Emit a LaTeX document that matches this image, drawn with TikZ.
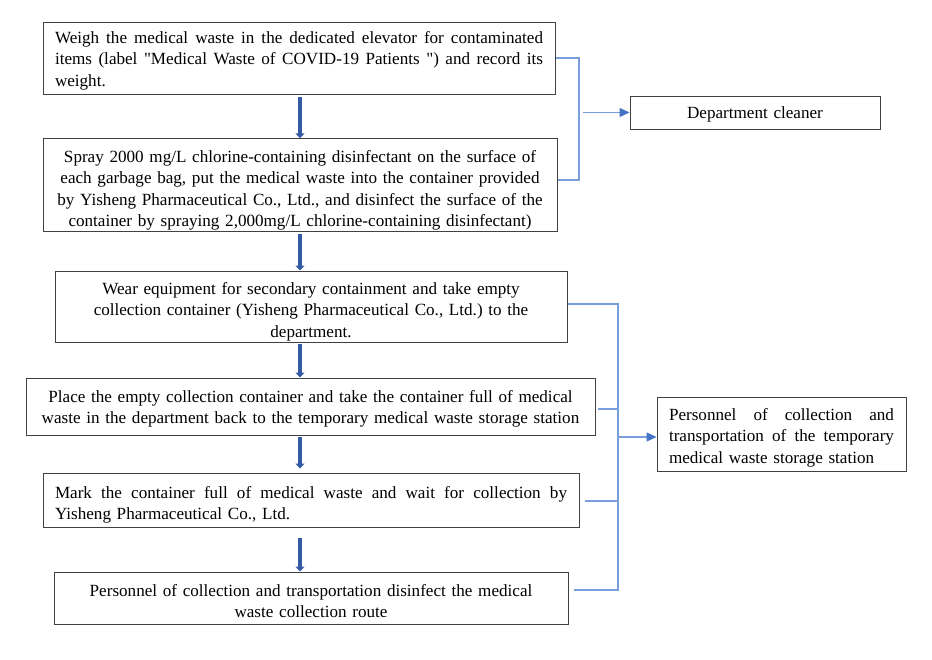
\documentclass[tikz,border=0pt]{standalone}
\usepackage{fontspec}
\setmainfont{Liberation Serif}[Ligatures=TeXOff]
\usetikzlibrary{arrows.meta,calc}
\definecolor{boxline}{RGB}{64,64,64}
\definecolor{connblue}{RGB}{120,158,220}
\definecolor{headblue}{RGB}{68,114,196}
\definecolor{arrowblue}{RGB}{52,90,164}
\newcommand\jline[2]{\makebox[#1][s]{\spaceskip=0pt\xspaceskip=0pt #2}}
\newcommand\tb[1]{\rule{0pt}{#1pt}}
\newcommand\bb{\rule[-4.5pt]{0pt}{0pt}}
\frenchspacing
\begin{document}
\begin{tikzpicture}[x=1pt,y=-1pt,
  box/.style={draw=boxline,line width=1pt,inner xsep=2pt,inner ysep=0pt,align=center,font=\fontsize{17.1}{21.5}\selectfont},
  jbox/.style={box,inner xsep=12pt,align=left},
  conn/.style={draw=connblue,line width=1.2pt},
  connarrow/.style={conn,-{Triangle[length=10pt,width=9pt,color=headblue]}},
  downarrow/.style={draw=arrowblue,line width=4.5pt,-{Triangle[length=5pt,width=9pt]}}]
\useasboundingbox (0,0) rectangle (932,659);

\node[jbox,text width=488pt,minimum height=72pt] (b1) at (299,58)
 {\tb{17.5}\jline{488pt}{Weigh the medical waste in the dedicated elevator for contaminated}\\
  \jline{488pt}{items (label "Medical Waste of COVID-19 Patients ") and record its}\\
  weight.\bb};
\node[box,text width=510pt,minimum height=92.5pt] (b2) at (300,185)
 {\tb{23}Spray 2000 mg/L chlorine-containing disinfectant on the surface of\\
  each garbage bag, put the medical waste into the container provided\\
  by Yisheng Pharmaceutical Co., Ltd., and disinfect the surface of the\\
  container by spraying 2,000mg/L chlorine-containing disinfectant)\bb};
\node[box,text width=508pt,minimum height=71pt] (b3) at (311,306.5)
 {\tb{22.5}Wear equipment for secondary containment and take empty\\
  collection container (Yisheng Pharmaceutical Co., Ltd.) to the\\
  department.\bb};
\node[box,text width=565pt,minimum height=57pt] (b4) at (310.5,406.5)
 {\tb{17}Place the empty collection container and take the container full of medical\\
  waste in the department back to the temporary medical waste storage station\bb};
\node[jbox,text width=512pt,minimum height=54pt] (b5) at (311,500)
 {\tb{22}\jline{512pt}{Mark the container full of medical waste and wait for collection by}\\
  Yisheng Pharmaceutical Co., Ltd.\bb};
\node[box,text width=510pt,minimum height=52pt] (b6) at (311,598)
 {\tb{22.5}Personnel of collection and transportation disinfect the medical\\
  waste collection route\bb};
\node[box,text width=246pt,minimum height=33pt] (dc) at (755,112.5)
 {\tb{15.5}Department cleaner\bb};
\node[jbox,text width=225pt,minimum height=74pt] (pc) at (781.5,434)
 {\tb{19.5}\jline{225pt}{Personnel of collection and}\\
  \jline{225pt}{transportation of the temporary}\\
  medical waste storage station\bb};

% main flow arrows
\coordinate (ax) at (300,0);
\coordinate (a1s) at ($(b1.south -| ax)+(0,2)$);
\coordinate (a2s) at ($(b2.south -| ax)+(0,2)$);
\coordinate (a3s) at ($(b3.south -| ax)+(0,1)$);
\coordinate (a4s) at ($(b4.south -| ax)+(0,1)$);
\coordinate (a5s) at ($(b5.south -| ax)+(0,10)$);
\coordinate (a4e) at ($(b5.north -| ax)+(0,-4)$);
\draw[downarrow] (a1s) -- (b2.north -| ax);
\draw[downarrow] (a2s) -- (b3.north -| ax);
\draw[downarrow] (a3s) -- (b4.north -| ax);
\draw[downarrow] (a4s) -- (a4e);
\draw[downarrow] (a5s) -- (b6.north -| ax);

% bracket to department cleaner
\coordinate (j1) at (579,112.5);
\coordinate (j1a) at (583,112.5);
\coordinate (b2c) at ($(b2.east)+(0,-5)$);
\draw[conn] (b1.east) -| (j1) |- (b2c);
\draw[connarrow] (j1a) -- (dc.west);

% bracket to personnel
\coordinate (j2) at (618,437);
\coordinate (b3c) at ($(b3.east)+(0,-2.5)$);
\coordinate (b4c) at ($(b4.east)+(2,2.5)$);
\coordinate (b5c) at ($(b5.east)+(5,1)$);
\coordinate (b6c) at ($(b6.east)+(5,-8)$);
\draw[conn] (b3c) -| (j2) |- (b6c);
\draw[conn] (b4c) -- (b4c -| j2);
\draw[conn] (b5c) -- (b5c -| j2);
\draw[connarrow] (j2) -- (j2 -| pc.west);
\end{tikzpicture}
\end{document}
